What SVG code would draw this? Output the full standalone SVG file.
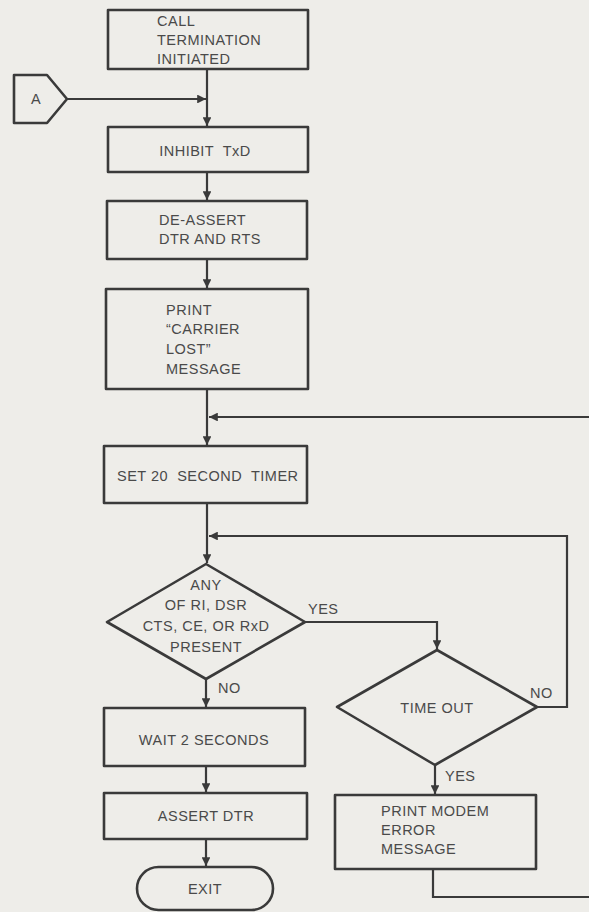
<svg xmlns="http://www.w3.org/2000/svg" width="589" height="912" viewBox="0 0 589 912">
  <defs>
    <marker id="arr" viewBox="0 0 10 10" refX="10" refY="5" markerWidth="4" markerHeight="4" orient="auto" markerUnits="strokeWidth">
      <path d="M0,0 L10,5 L0,10 z" fill="#3a3a3a"/>
    </marker>
    <style>
      .shape { fill: none; stroke: #3a3a3a; stroke-width: 2.6; stroke-linejoin: round; }
      .line { fill: none; stroke: #3a3a3a; stroke-width: 2.2; }
      .t { font-family: "Liberation Sans", Arial, sans-serif; font-size: 14.5px; fill: #4a4a4a; letter-spacing: 0.5px; }
      .c { text-anchor: middle; }
    </style>
  </defs>
  <rect width="589" height="912" fill="#eeede9"/>

  <!-- connectors -->
  <g id="connectors">
    <line class="line" x1="207" y1="69" x2="207" y2="126" marker-end="url(#arr)"/>
    <line class="line" x1="67" y1="99" x2="206" y2="99" marker-end="url(#arr)"/>
    <line class="line" x1="207" y1="172" x2="207" y2="200" marker-end="url(#arr)"/>
    <line class="line" x1="207" y1="259" x2="207" y2="288" marker-end="url(#arr)"/>
    <line class="line" x1="207" y1="389" x2="207" y2="445" marker-end="url(#arr)"/>
    <line class="line" x1="589" y1="417" x2="209" y2="417" marker-end="url(#arr)"/>
    <line class="line" x1="207" y1="503" x2="207" y2="563" marker-end="url(#arr)"/>
    <polyline class="line" points="537,707 567,707 567,536 209,536" marker-end="url(#arr)"/>
    <polyline class="line" points="305,622 437,622 437,649" marker-end="url(#arr)"/>
    <line class="line" x1="206" y1="679" x2="206" y2="707" marker-end="url(#arr)"/>
    <line class="line" x1="206" y1="766" x2="206" y2="792" marker-end="url(#arr)"/>
    <line class="line" x1="206" y1="839" x2="206" y2="866" marker-end="url(#arr)"/>
    <line class="line" x1="435" y1="765" x2="435" y2="794" marker-end="url(#arr)"/>
    <polyline class="line" points="433,869 433,897 589,897"/>
    <text class="t" x="308" y="614">YES</text>
    <text class="t" x="218" y="693">NO</text>
    <text class="t" x="530" y="698">NO</text>
    <text class="t" x="445" y="781">YES</text>
  </g>

  <g id="call-termination">
    <rect class="shape" x="108" y="10" width="200" height="59"/>
    <text class="t" x="157" y="26">CALL</text>
    <text class="t" x="157" y="45">TERMINATION</text>
    <text class="t" x="157" y="64">INITIATED</text>
  </g>

  <g id="connector-a">
    <polygon class="shape" points="14,75 47,75 67,99 47,123 14,123"/>
    <text class="t c" x="36" y="104">A</text>
  </g>

  <g id="inhibit-txd">
    <rect class="shape" x="108" y="127" width="200" height="45"/>
    <text class="t c" x="205" y="156" xml:space="preserve">INHIBIT  TxD</text>
  </g>

  <g id="deassert">
    <rect class="shape" x="107" y="201" width="200" height="58"/>
    <text class="t" x="159" y="225">DE-ASSERT</text>
    <text class="t" x="159" y="244">DTR AND RTS</text>
  </g>

  <g id="print-carrier-lost">
    <rect class="shape" x="106" y="289" width="202" height="100"/>
    <text class="t" x="166" y="315">PRINT</text>
    <text class="t" x="166" y="334">“CARRIER</text>
    <text class="t" x="166" y="354">LOST”</text>
    <text class="t" x="166" y="374">MESSAGE</text>
  </g>

  <g id="set-timer">
    <rect class="shape" x="104" y="446" width="203" height="57"/>
    <text class="t" x="117" y="481" xml:space="preserve">SET 20  SECOND  TIMER</text>
  </g>

  <g id="any-present">
    <polygon class="shape" points="206,564 305,622 206,679 107,622"/>
    <text class="t c" x="206" y="590">ANY</text>
    <text class="t c" x="206" y="610">OF RI, DSR</text>
    <text class="t c" x="206" y="631">CTS, CE, OR RxD</text>
    <text class="t c" x="206" y="652">PRESENT</text>
  </g>

  <g id="time-out">
    <polygon class="shape" points="437,650 537,707 435,765 337,707"/>
    <text class="t c" x="437" y="713">TIME OUT</text>
  </g>

  <g id="wait">
    <rect class="shape" x="104" y="708" width="201" height="58"/>
    <text class="t c" x="204" y="745">WAIT 2 SECONDS</text>
  </g>

  <g id="assert-dtr">
    <rect class="shape" x="104" y="793" width="203" height="46"/>
    <text class="t c" x="206" y="821">ASSERT DTR</text>
  </g>

  <g id="print-modem-error">
    <rect class="shape" x="335" y="795" width="201" height="74"/>
    <text class="t" x="381" y="816">PRINT MODEM</text>
    <text class="t" x="381" y="835">ERROR</text>
    <text class="t" x="381" y="854">MESSAGE</text>
  </g>

  <g id="exit">
    <rect class="shape" x="137" y="867" width="136" height="43" rx="21.5" ry="21.5"/>
    <text class="t c" x="205" y="894">EXIT</text>
  </g>
</svg>
